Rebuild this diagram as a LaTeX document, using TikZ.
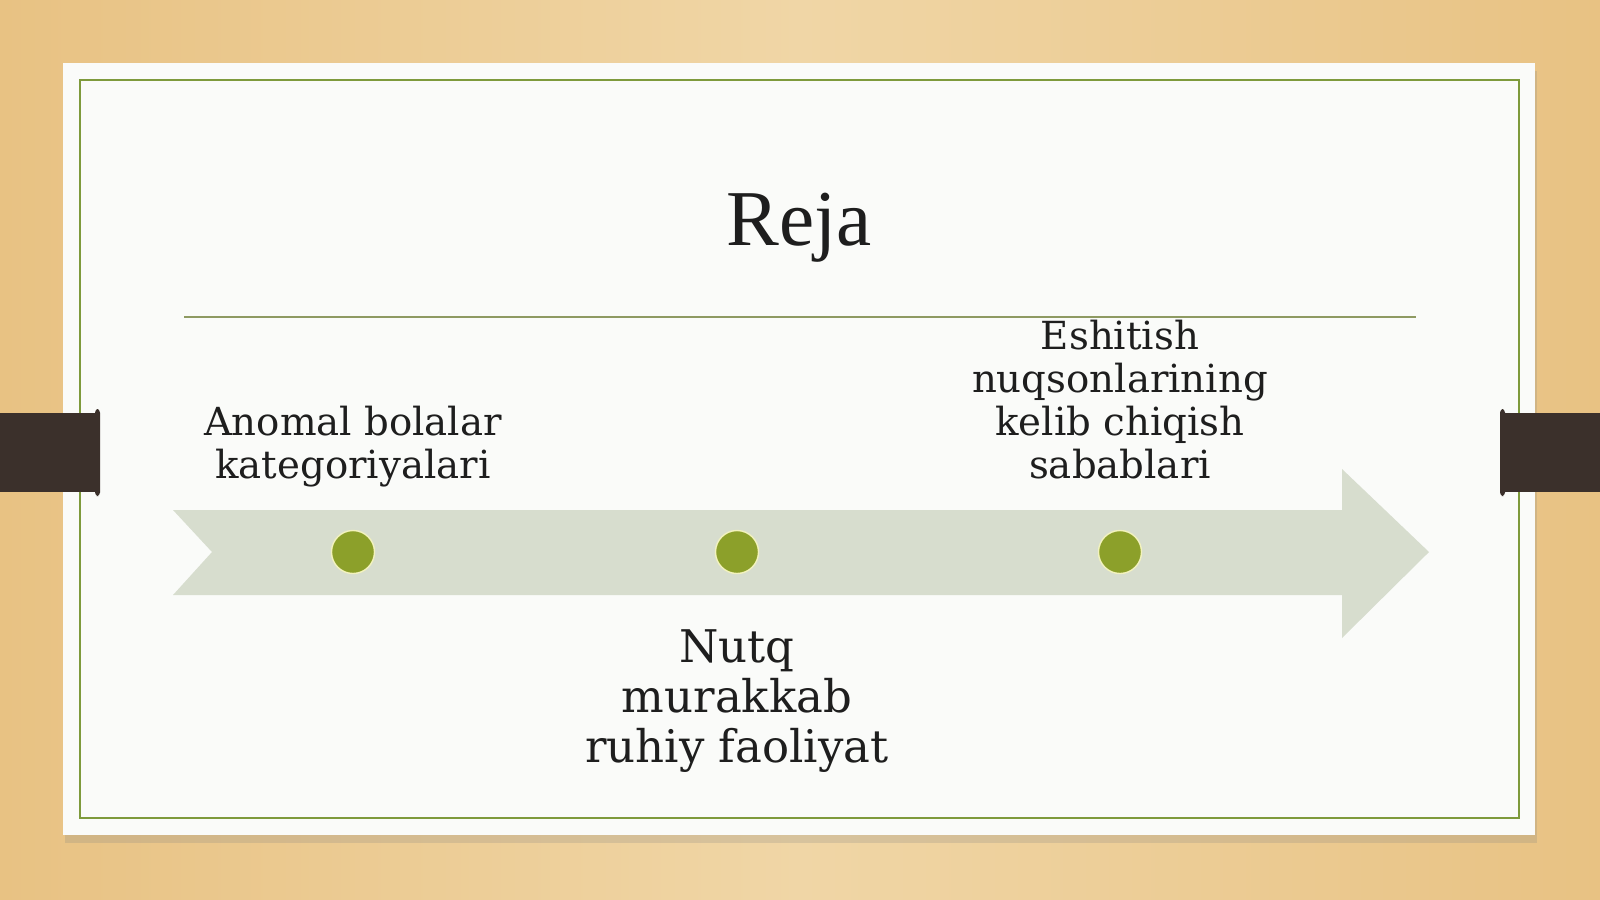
\documentclass[tikz,border=0pt]{standalone}
\usepackage{fontspec}
\setmainfont{DejaVu Serif}
\newfontfamily\titlefont{Liberation Serif}
\usepackage{tikz}
\usetikzlibrary{positioning,shadows,calc}
\definecolor{wood}{HTML}{E8C283}
\definecolor{woodlight}{HTML}{F0D6A6}
\definecolor{cardwhite}{HTML}{FAFBF9}
\definecolor{framegreen}{HTML}{7E9A3C}
\definecolor{rulegreen}{HTML}{8E9A62}
\definecolor{arrowgrey}{HTML}{D7DDCE}
\definecolor{dotgreen}{HTML}{8CA02A}
\definecolor{dotrim}{HTML}{F2F2BE}
\definecolor{barbrown}{HTML}{3B302B}
\definecolor{inktext}{HTML}{1E1E1E}

\begin{document}
\begin{tikzpicture}[x=0.01cm,y=-0.01cm]
            \tikzstyle{dot}=[circle, fill=dotgreen, draw=dotrim, line width=0.4pt,
              minimum size=0.43cm, inner sep=0pt]
            \tikzstyle{topic}=[align=center, inner sep=0pt, text=inktext, text depth=0pt,
              font=\fontsize{11}{12.2}\selectfont]
            \tikzstyle{bigtopic}=[topic, font=\fontsize{12.8}{14.2}\selectfont]
            \useasboundingbox (0,0) rectangle (1600,899);
            % wooden background
            \shade[left color=wood, right color=wood, middle color=woodlight]
              (0,0) rectangle (1600,899);
            % slide card and its frame
            \fill[cardwhite, drop shadow={shadow xshift=0.02cm, shadow yshift=-0.08cm,
              opacity=0.22}] (63,63) rectangle (1535,835);
            \draw[framegreen, line width=0.6pt] (80,80) rectangle (1519,818);
            % side clips
            \fill[barbrown] (0,413) rectangle (97,492);
            \fill[barbrown, rounded corners=1pt] (95,409) rectangle (100,496);
            \fill[barbrown] (1503,413) rectangle (1600,492);
            \fill[barbrown, rounded corners=1pt] (1500,409) rectangle (1505,496);
            % title and rule
            \node[anchor=base, inner sep=0pt, text=inktext,
              font=\titlefont\fontsize{22.5}{22.5}\selectfont] (title) at (799,245) {Reja};
            \draw[rulegreen, line width=0.6pt] (184,317) -- (1416,317);
            % timeline arrow
            \fill[arrowgrey] (173,510) -- (1342,510) -- (1342,469) -- (1429,552)
              -- (1342,638) -- (1342,595) -- (173,595) -- (212,552) -- cycle;
            \node[dot] (d1) at (353,552) {};
            \node[dot] (d2) at (737,552) {};
            \node[dot] (d3) at (1120,552) {};
            \node[topic, anchor=south] (t1) at (353,479)
              {Anomal bolalar\\kategoriyalari};
            \node[topic, anchor=south] (t3) at (1120,479)
              {Eshitish\\nuqsonlarining\\kelib chiqish\\sabablari};
            \node[bigtopic, anchor=south] (t2) at (737,763)
              {Nutq\\murakkab\\ruhiy faoliyat};
        \end{tikzpicture}
\end{document}
